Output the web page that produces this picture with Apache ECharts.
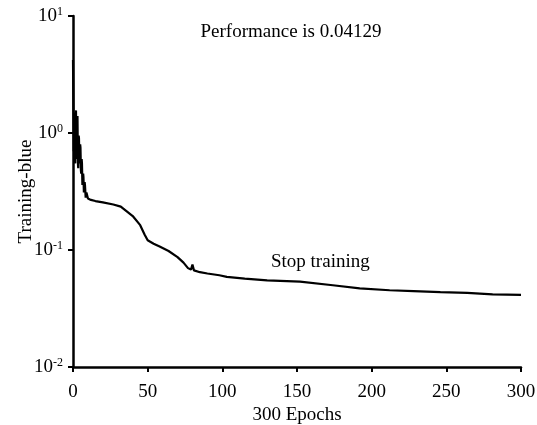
<!DOCTYPE html>
<html>
<head>
<meta charset="utf-8">
<script src="https://cdn.jsdelivr.net/npm/echarts@6/dist/echarts.min.js"></script>
<style>
html,body{margin:0;padding:0;background:#fff;}
#chart{width:537px;height:425px;}
</style>
</head>
<body>
<div id="chart"></div>
<script>
// Data
const epochs = [0, 0.5, 0.8, 1, 1.3, 1.5, 1.8, 2, 2.3, 2.5, 2.8, 3, 3.3, 3.5, 3.8, 4, 4.3, 4.5, 4.8, 5, 5.3, 5.5, 5.8, 6, 6.3, 6.5, 6.8, 7, 7.3, 7.5, 7.8, 8, 8.5, 9, 10, 12, 15, 20, 27, 32, 36, 40, 45, 48, 50, 54, 58, 64, 70, 74, 77, 79, 80, 81, 85, 90, 98, 103, 115, 130, 152, 174, 192, 212, 228, 246, 264, 281, 300];
const performance = [4.2, 0.7, 1.2, 1.5, 0.6, 0.55, 1.3, 1.56, 0.65, 0.6, 1.2, 1.4, 0.55, 0.5, 0.95, 0.9, 0.55, 0.6, 0.8, 0.75, 0.48, 0.45, 0.6, 0.55, 0.36, 0.35, 0.45, 0.42, 0.31, 0.3, 0.38, 0.36, 0.28, 0.31, 0.275, 0.268, 0.262, 0.255, 0.245, 0.235, 0.214, 0.195, 0.163, 0.135, 0.121, 0.113, 0.107, 0.098, 0.087, 0.078, 0.07, 0.068, 0.075, 0.067, 0.0646, 0.063, 0.0608, 0.0589, 0.057, 0.055, 0.0536, 0.050, 0.047, 0.0453, 0.0445, 0.0436, 0.043, 0.0417, 0.04129];
const xTicks = [0, 50, 100, 150, 200, 250, 300];
const yTicks = [0.01, 0.1, 1, 10];
const titleText = 'Performance is 0.04129';
const noteText = 'Stop training';
const xName = '300 Epochs';
const yName = 'Training-blue';

const FONT = "'Liberation Serif', 'Times New Roman', serif";
const chart = echarts.init(document.getElementById('chart'), null, {renderer: 'canvas'});
const seriesData = epochs.map((e, i) => [e, performance[i]]);

chart.setOption({
  backgroundColor: '#ffffff',
  animation: false,
  grid: {left: 73, right: 16, top: 16, bottom: 58, containLabel: false, outerBoundsMode: 'none'},
  title: {
    text: titleText,
    left: 286, top: 18, textAlign: 'center',
    textStyle: {fontFamily: FONT, fontSize: 19, fontWeight: 'normal', color: '#000'}
  },
  graphic: [{
    type: 'text', left: 271, top: 253,
    style: {text: noteText, font: "19px " + FONT, fill: '#000'}
  }],
  xAxis: {
    type: 'value', min: xTicks[0], max: xTicks[xTicks.length - 1], interval: 50,
    name: xName, nameLocation: 'middle', nameGap: 39, nameMoveOverlap: false,
    nameTextStyle: {fontFamily: FONT, fontSize: 19, color: '#000'},
    axisLine: {show: true, onZero: false, lineStyle: {color: '#000', width: 2.5}},
    axisTick: {show: true, inside: false, length: 5, lineStyle: {color: '#000', width: 2}},
    axisLabel: {fontFamily: FONT, fontSize: 19, color: '#000', margin: 16},
    splitLine: {show: false}
  },
  yAxis: {
    type: 'log', logBase: 10, min: yTicks[0], max: yTicks[yTicks.length - 1],
    name: yName, nameLocation: 'middle', nameGap: 37, nameRotate: 90, nameMoveOverlap: false,
    nameTextStyle: {fontFamily: FONT, fontSize: 19, color: '#000'},
    axisLine: {show: true, lineStyle: {color: '#000', width: 2.5}},
    axisTick: {show: true, inside: false, length: 5, lineStyle: {color: '#000', width: 2}},
    axisLabel: {
      margin: 10,
      formatter: function (v) {
        const e = Math.round(Math.log10(v));
        return '{b|10}{s|' + e + '}';
      },
      rich: {
        b: {fontFamily: FONT, fontSize: 19, color: '#000'},
        s: {fontFamily: FONT, fontSize: 12, color: '#000', verticalAlign: 'top', padding: [0, 0, 9, 0]}
      }
    },
    splitLine: {show: false},
    minorTick: {show: false}
  },
  series: [{
    type: 'line',
    data: seriesData,
    showSymbol: false,
    symbol: 'none',
    lineStyle: {color: '#000', width: 2.2},
    smooth: false
  }]
});
</script>
</body>
</html>
